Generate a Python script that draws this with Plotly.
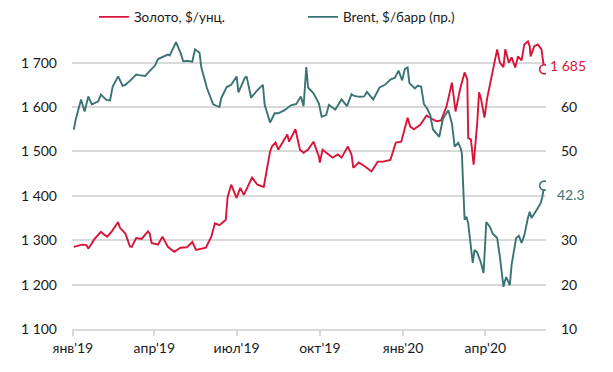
import plotly.graph_objects as go

gold_dates = [
    "2019-01-02", "2019-01-07", "2019-01-11", "2019-01-16", "2019-01-18", "2019-01-25",
    "2019-02-01", "2019-02-05", "2019-02-08", "2019-02-13", "2019-02-20", "2019-02-22", "2019-02-28",
    "2019-03-05", "2019-03-07", "2019-03-12", "2019-03-18", "2019-03-25", "2019-03-27", "2019-03-29",
    "2019-04-05", "2019-04-10", "2019-04-16", "2019-04-23", "2019-04-30",
    "2019-05-07", "2019-05-13", "2019-05-17", "2019-05-23", "2019-05-28",
    "2019-06-03", "2019-06-07", "2019-06-12", "2019-06-19", "2019-06-21", "2019-06-25",
    "2019-07-01", "2019-07-05", "2019-07-09", "2019-07-18", "2019-07-24", "2019-07-31",
    "2019-08-02", "2019-08-07", "2019-08-09", "2019-08-13", "2019-08-16", "2019-08-26", "2019-08-28",
    "2019-09-04", "2019-09-09", "2019-09-13", "2019-09-18", "2019-09-24", "2019-09-30",
    "2019-10-01", "2019-10-04", "2019-10-11", "2019-10-15", "2019-10-21", "2019-10-25",
    "2019-11-01", "2019-11-05", "2019-11-07", "2019-11-13", "2019-11-20", "2019-11-27",
    "2019-12-04", "2019-12-10", "2019-12-18", "2019-12-24", "2019-12-30",
    "2020-01-06", "2020-01-09", "2020-01-13", "2020-01-20", "2020-01-27",
    "2020-02-03", "2020-02-07", "2020-02-12", "2020-02-18", "2020-02-24", "2020-02-28",
    "2020-03-04", "2020-03-09", "2020-03-12", "2020-03-13", "2020-03-16", "2020-03-19",
    "2020-03-23", "2020-03-25", "2020-03-27", "2020-03-31",
    "2020-04-03", "2020-04-07", "2020-04-09", "2020-04-14", "2020-04-17", "2020-04-21",
    "2020-04-23", "2020-04-27", "2020-04-30",
    "2020-05-04", "2020-05-07", "2020-05-11", "2020-05-14", "2020-05-18", "2020-05-20",
    "2020-05-21", "2020-05-25", "2020-05-29",
    "2020-06-02", "2020-06-03", "2020-06-05",
]
gold_values = [
    1285, 1288, 1290, 1289, 1281, 1303,
    1319, 1312, 1308, 1320, 1341, 1328, 1315,
    1286, 1285, 1305, 1303, 1320, 1314, 1294,
    1290, 1308, 1285, 1274, 1283,
    1284, 1296, 1278, 1281, 1283,
    1308, 1338, 1334, 1346, 1397, 1425,
    1395, 1418, 1402, 1441, 1425, 1420,
    1443, 1500, 1511, 1520, 1504, 1538, 1522,
    1550, 1504, 1497, 1504, 1522, 1488,
    1475, 1504, 1493, 1486, 1493, 1486,
    1511, 1493, 1463, 1475, 1466, 1455,
    1477, 1477, 1481, 1520, 1522,
    1576, 1556, 1550, 1560, 1581,
    1572, 1568, 1570, 1601, 1655, 1590,
    1640, 1678, 1662, 1530, 1527, 1470,
    1565, 1633, 1620, 1576,
    1620, 1660, 1685, 1730, 1700, 1690,
    1730, 1700, 1712,
    1689, 1714, 1705, 1741, 1748, 1737,
    1714, 1737, 1741,
    1730, 1714, 1685,
]

brent_dates = [
    "2019-01-02", "2019-01-04", "2019-01-10", "2019-01-14", "2019-01-18", "2019-01-22", "2019-01-29",
    "2019-02-01", "2019-02-07", "2019-02-11", "2019-02-14", "2019-02-20", "2019-02-25", "2019-02-28",
    "2019-03-05", "2019-03-12", "2019-03-15", "2019-03-22", "2019-03-26",
    "2019-04-02", "2019-04-05", "2019-04-10", "2019-04-16", "2019-04-18", "2019-04-23", "2019-04-25", "2019-04-30",
    "2019-05-03", "2019-05-08", "2019-05-13", "2019-05-16", "2019-05-21", "2019-05-23", "2019-05-29",
    "2019-06-05", "2019-06-12", "2019-06-14", "2019-06-20", "2019-06-25",
    "2019-07-01", "2019-07-03", "2019-07-10", "2019-07-12", "2019-07-17", "2019-07-24", "2019-07-30",
    "2019-08-01", "2019-08-07", "2019-08-12", "2019-08-16", "2019-08-23", "2019-08-30",
    "2019-09-05", "2019-09-10", "2019-09-13", "2019-09-16", "2019-09-18", "2019-09-24", "2019-09-30",
    "2019-10-03", "2019-10-08", "2019-10-11", "2019-10-18", "2019-10-25", "2019-10-31",
    "2019-11-05", "2019-11-08", "2019-11-14", "2019-11-19", "2019-11-22", "2019-11-29",
    "2019-12-06", "2019-12-12", "2019-12-18", "2019-12-23", "2019-12-27", "2019-12-31",
    "2020-01-03", "2020-01-06", "2020-01-08", "2020-01-10", "2020-01-14", "2020-01-17",
    "2020-01-21", "2020-01-24", "2020-01-28", "2020-01-31",
    "2020-02-03", "2020-02-10", "2020-02-14", "2020-02-20", "2020-02-24", "2020-02-27",
    "2020-03-02", "2020-03-05", "2020-03-06", "2020-03-09", "2020-03-11", "2020-03-13",
    "2020-03-16", "2020-03-18", "2020-03-20", "2020-03-23", "2020-03-27", "2020-03-30",
    "2020-04-02", "2020-04-06", "2020-04-09", "2020-04-14", "2020-04-17", "2020-04-21",
    "2020-04-22", "2020-04-24", "2020-04-28", "2020-04-30",
    "2020-05-05", "2020-05-08", "2020-05-11", "2020-05-14", "2020-05-18", "2020-05-20",
    "2020-05-22", "2020-05-26", "2020-05-28",
    "2020-06-01", "2020-06-03", "2020-06-05",
]
brent_values = [
    54.9, 57.1, 61.7, 59.0, 62.4, 60.6, 61.3,
    62.8, 61.6, 61.5, 64.6, 66.9, 64.8, 65.0,
    65.9, 67.3, 67.2, 67.0, 67.9,
    69.4, 70.8, 71.2, 71.8, 71.6, 74.0, 74.6, 72.2,
    70.3, 70.4, 70.2, 73.0, 72.2, 68.9, 64.4,
    60.6, 60.0, 62.0, 64.5, 65.0,
    66.9, 63.3, 66.5, 66.9, 62.1, 63.8, 65.0,
    60.5, 56.5, 58.6, 58.6, 59.3, 60.4,
    60.7, 62.4, 60.2, 69.0, 64.4, 63.1, 60.8,
    57.8, 58.2, 60.5, 59.4, 61.7, 60.2,
    62.9, 62.5, 62.3, 62.4, 63.4, 61.7,
    64.4, 65.0, 66.2, 66.6, 68.2, 66.0,
    68.6, 68.9, 65.4, 65.0, 64.2, 64.8,
    64.6, 60.7, 59.5, 58.2,
    55.0, 53.3, 57.3, 59.3, 56.3, 51.1,
    51.9, 50.5, 49.5, 34.6, 35.3, 33.8,
    28.3, 24.9, 27.8, 27.2, 25.0, 22.6,
    34.1, 33.0, 31.5, 30.5, 26.3, 19.5,
    20.4, 21.7, 19.9, 24.5,
    30.5, 31.0, 29.4, 31.1, 35.0, 36.4,
    35.0, 36.2, 36.9,
    38.3, 39.8, 42.3,
]

x_tick_vals = ["2019-01-01", "2019-04-01", "2019-07-01", "2019-10-01", "2020-01-01", "2020-04-01"]
x_tick_text = ["янв'19", "апр'19", "июл'19", "окт'19", "янв'20", "апр'20"]
left_tick_vals = [1100, 1200, 1300, 1400, 1500, 1600, 1700]
left_tick_text = ["1 100", "1 200", "1 300", "1 400", "1 500", "1 600", "1 700"]
right_tick_vals = [10, 20, 30, 50, 60]
right_tick_text = ["10", "20", "30", "50", "60"]

gold_label = "1 685"
brent_label = "42.3"

RED = "#D7153A"
TEAL = "#3A7373"
GRID = "#D9D9D9"
FONT = "Lato"

fig = go.Figure()
fig.add_trace(go.Scatter(
    x=gold_dates, y=gold_values, name="Золото, $/унц.", mode="lines",
    line=dict(color=RED, width=1.9), yaxis="y"))
fig.add_trace(go.Scatter(
    x=brent_dates, y=brent_values, name="Brent, $/барр (пр.)", mode="lines",
    line=dict(color=TEAL, width=1.9), yaxis="y2"))
# end markers
fig.add_trace(go.Scatter(
    x=[gold_dates[-1]], y=[gold_values[-1]], mode="markers", showlegend=False,
    marker=dict(symbol="circle", size=9, color="white", line=dict(color=RED, width=1.6)),
    yaxis="y"))
fig.add_trace(go.Scatter(
    x=[brent_dates[-1]], y=[brent_values[-1]], mode="markers", showlegend=False,
    marker=dict(symbol="circle", size=9, color="white", line=dict(color=TEAL, width=1.6)),
    yaxis="y2"))

fig.add_annotation(x=gold_dates[-1], y=gold_values[-1], xref="x", yref="y",
                   text=gold_label, showarrow=False, xanchor="left", xshift=4, yshift=4,
                   font=dict(family=FONT, size=14, color=RED))
fig.add_annotation(x=brent_dates[-1], y=brent_values[-1], xref="x", yref="y2",
                   text=brent_label, showarrow=False, xanchor="left", xshift=11, yshift=-9,
                   font=dict(family=FONT, size=14, color=TEAL))

# page body has an 8px default margin, so the figure is 8px smaller and shifted
fig.update_layout(
    width=605, height=364,
    margin=dict(l=64, r=67, t=28, b=43, autoexpand=False),
    paper_bgcolor="white", plot_bgcolor="white",
    font=dict(family=FONT, size=14, color="#1a1a1a"),
    showlegend=True,
    legend=dict(orientation="h", xref="container", yref="container",
                x=0.142, y=0.975, xanchor="left", yanchor="middle",
                entrywidth=164, entrywidthmode="pixels",
                font=dict(family=FONT, size=13.5, color="#1a1a1a"),
                bgcolor="rgba(0,0,0,0)"),
    xaxis=dict(
        type="date", range=["2018-12-31", "2020-06-07"],
        tickvals=x_tick_vals, ticktext=x_tick_text,
        showgrid=False, zeroline=False,
        showline=True, linecolor=GRID, linewidth=2,
        ticks="outside", ticklen=5, tickcolor=GRID, tickwidth=2,
        tickfont=dict(family=FONT, size=14, color="#1a1a1a"),
    ),
    yaxis=dict(
        range=[1100, 1760], tickvals=left_tick_vals, ticktext=left_tick_text,
        showgrid=True, gridcolor=GRID, gridwidth=2, zeroline=False,
        ticks="", ticklabelstandoff=14,
        tickfont=dict(family=FONT, size=14, color="#1a1a1a"),
    ),
    yaxis2=dict(
        range=[10, 76], overlaying="y", side="right",
        tickvals=right_tick_vals, ticktext=right_tick_text,
        showgrid=False, zeroline=False, ticks="", ticklabelstandoff=14,
        tickfont=dict(family=FONT, size=14, color="#1a1a1a"),
    ),
)

fig.write_html("out.html")
